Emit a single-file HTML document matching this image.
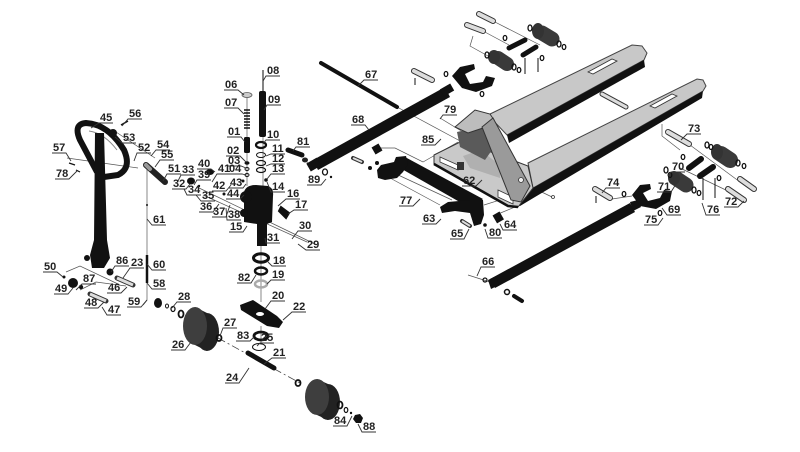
<!DOCTYPE html>
<html><head><meta charset="utf-8"><style>
html,body{margin:0;padding:0;background:#fff;}
svg{display:block;}
text{font-family:"Liberation Sans",Arial,sans-serif;font-weight:bold;font-size:11px;fill:#222;}
.u{fill:none;stroke:#333;stroke-width:0.9;}
.g{fill:none;stroke:#555;stroke-width:0.7;}
</style></head><body>
<svg width="800" height="452" viewBox="0 0 800 452" xmlns="http://www.w3.org/2000/svg">
<rect width="800" height="452" fill="#fff"/>

<!-- guide lines -->
<g class="g">
<line x1="263" y1="72" x2="263" y2="186"/>
<line x1="247" y1="95" x2="247" y2="186"/>
<line x1="261" y1="245" x2="261" y2="302"/>
<line x1="261" y1="326" x2="261" y2="345"/>
<line x1="197" y1="187" x2="317" y2="245"/>
<line x1="203" y1="195" x2="307" y2="242"/>
<line x1="67" y1="158" x2="138" y2="168"/>
<line x1="113" y1="130" x2="155" y2="158"/>
<polyline points="66,272 80,266 118,284"/>
<polyline points="80,290 96,282 126,286"/>
<line x1="397" y1="107" x2="462" y2="142"/>
<polyline points="378,148 395,148 423,162 458,142"/>
<line x1="390" y1="178" x2="440" y2="205"/>
<line x1="396" y1="174" x2="452" y2="200"/>
<polyline points="484,205 500,200 512,188"/>
<polyline points="498,214 515,207 505,197"/>
<line x1="440" y1="118" x2="463" y2="132"/>
<line x1="303" y1="160" x2="318" y2="168"/>
<line x1="483" y1="31" x2="509" y2="45"/>
<line x1="493" y1="21" x2="540" y2="45"/>
<polyline points="473,36 470,46 488,56"/>
<polyline points="662,124 662,136 680,150"/>
<line x1="690" y1="145" x2="740" y2="182"/>
<line x1="680" y1="168" x2="730" y2="192"/>
<line x1="523" y1="183" x2="552" y2="197"/>
<line x1="147" y1="168" x2="147" y2="300"/>
<line x1="612" y1="199" x2="632" y2="196"/>
<line x1="468" y1="275" x2="493" y2="283"/>
<line x1="630" y1="208" x2="645" y2="200"/>
</g>
<line x1="218" y1="338" x2="300" y2="383" stroke="#444" stroke-width="0.8" stroke-dasharray="8,3,2,3"/>

<!-- FORKS -->
<polygon points="488,115 632,45 642,46 647,53 644,60 507,135" fill="#c8c8c8" stroke="#444" stroke-width="1"/>
<polygon points="507,135 644,60 645,67 509,143" fill="#111"/>
<polygon points="588,72 612,59 617,61 593,74" fill="#fff" stroke="#333" stroke-width="0.8"/>
<polygon points="528,163 697,79 703,80 706,86 703,91 533,188" fill="#c8c8c8" stroke="#444" stroke-width="1"/>
<polygon points="533,188 703,91 702,98 535,197 520,206 516,204" fill="#111"/>
<polygon points="650,106 672,94 677,96 655,108" fill="#fff" stroke="#333" stroke-width="0.8"/>
<line x1="602" y1="94" x2="626" y2="107" stroke="#333" stroke-width="5" stroke-linecap="round"/>
<line x1="602" y1="94" x2="626" y2="107" stroke="#ddd" stroke-width="3" stroke-linecap="round"/>

<!-- FRAME -->
<polygon points="434,155 462,141 528,166 533,188 518,207 508,206 434,164" fill="#c9c9c9" stroke="#333" stroke-width="1"/>
<polygon points="463,156 480,150 500,165 500,178 470,168" fill="#b0b0b0"/>
<polyline points="434,164 508,206 518,207" fill="none" stroke="#111" stroke-width="2.5"/>
<polygon points="440,157 458,165 458,170 440,162" fill="#fff" stroke="#333" stroke-width="0.8"/>
<rect x="457" y="162" width="7" height="8" fill="#333"/>
<polygon points="498,190 513,197 513,204 498,197" fill="#fff" stroke="#333" stroke-width="0.8"/>
<polygon points="457,132 483,126 492,150 485,160 460,147" fill="#5a5a5a"/>
<polygon points="455,127 475,110 490,114 494,120 483,128 468,133" fill="#bdbdbd" stroke="#333" stroke-width="1"/>
<polygon points="482,127 493,118 530,186 521,202 511,200" fill="#9a9a9a" stroke="#333" stroke-width="1"/>
<circle cx="521" cy="180" r="2.5" fill="#eee" stroke="#333" stroke-width="0.8"/>
<circle cx="553" cy="197" r="1.5" fill="none" stroke="#333" stroke-width="0.8"/>

<!-- BARS -->
<line x1="321" y1="63" x2="397" y2="107" stroke="#111" stroke-width="4" stroke-linecap="round"/>
<polygon points="318,170 313,160 445,87 450,97" fill="#111"/>
<rect x="441" y="86" width="12" height="8" fill="#111" transform="rotate(-30 447 90)"/>
<rect x="308" y="160" width="12" height="9" fill="#111" transform="rotate(-30 314 165)"/>
<polygon points="495,288 490,279 630,203 635,212" fill="#111"/>
<polygon points="630,202 638,200 641,207 633,211" fill="#111"/>
<polygon points="488,280 496,276 499,285 491,289" fill="#111"/>

<!-- LEVER 63 -->
<polygon points="405,157 483,199 472,209 400,168" fill="#111"/>
<polygon points="377,170 381,165 394,162 396,157 406,156 408,164 403,172 397,178 385,180 378,178" fill="#111"/>
<polygon points="440,207 448,202 470,200 483,200 484,215 481,224 474,226 470,213 455,211 442,213" fill="#111"/>
<rect x="373" y="145" width="8" height="8" fill="#111" transform="rotate(-30 377 149)"/>
<line x1="353" y1="158" x2="362" y2="162" stroke="#333" stroke-width="4" stroke-linecap="round"/>
<line x1="353" y1="158" x2="362" y2="162" stroke="#ddd" stroke-width="2"/>
<circle cx="370" cy="168" r="2" fill="#111"/><circle cx="377" cy="163" r="2" fill="#111"/>
<line x1="462" y1="221" x2="470" y2="226" stroke="#333" stroke-width="4" stroke-linecap="round"/>
<line x1="462" y1="221" x2="470" y2="226" stroke="#ddd" stroke-width="2"/>
<rect x="494" y="213" width="8" height="9" fill="#111" transform="rotate(-30 498 217)"/>
<circle cx="485" cy="225" r="1.8" fill="#111"/>
<circle cx="507" cy="292" r="2.5" fill="none" stroke="#111" stroke-width="1.5"/>
<circle cx="485" cy="280" r="2" fill="none" stroke="#111" stroke-width="1.2"/>
<line x1="514" y1="296" x2="522" y2="301" stroke="#111" stroke-width="4" stroke-linecap="round"/>

<!-- 81 / 89 -->
<line x1="288" y1="150" x2="302" y2="155" stroke="#111" stroke-width="5" stroke-linecap="round"/>
<ellipse cx="305" cy="160" rx="3" ry="2.5" fill="#222"/>
<ellipse cx="325" cy="172" rx="2.5" ry="3" fill="none" stroke="#111" stroke-width="1.3"/>
<circle cx="331" cy="177" r="1.2" fill="#111"/>

<!-- TOP ROLLER CLUSTER -->
<g stroke-linecap="round">
<line x1="467" y1="25" x2="483" y2="31" stroke="#333" stroke-width="6"/>
<line x1="467" y1="25" x2="483" y2="31" stroke="#ddd" stroke-width="4"/>
<line x1="479" y1="14" x2="493" y2="21" stroke="#333" stroke-width="6"/>
<line x1="479" y1="14" x2="493" y2="21" stroke="#ddd" stroke-width="4"/>
<line x1="509" y1="48" x2="525" y2="40" stroke="#111" stroke-width="5"/>
<line x1="523" y1="55" x2="536" y2="47" stroke="#111" stroke-width="5"/>
<line x1="498" y1="58" x2="507" y2="64" stroke="#3a3a3a" stroke-width="14"/>
<line x1="542" y1="33" x2="552" y2="39" stroke="#3a3a3a" stroke-width="15"/>
<line x1="414" y1="71" x2="432" y2="80" stroke="#333" stroke-width="6"/>
<line x1="414" y1="71" x2="432" y2="80" stroke="#ddd" stroke-width="4"/>
</g>
<ellipse cx="494" cy="57" rx="6" ry="7" fill="#333"/>
<ellipse cx="538" cy="31" rx="6" ry="8" fill="#333"/>
<g fill="none" stroke="#111" stroke-width="1.3">
<ellipse cx="487" cy="55" rx="2" ry="3"/><ellipse cx="514" cy="67" rx="2" ry="3"/><ellipse cx="519" cy="70" rx="1.8" ry="2.5"/>
<ellipse cx="530" cy="28" rx="2" ry="3"/><ellipse cx="559" cy="44" rx="2" ry="3"/><ellipse cx="564" cy="47" rx="1.8" ry="2.5"/>
<ellipse cx="505" cy="38" rx="1.8" ry="2.5"/><ellipse cx="542" cy="58" rx="1.8" ry="2.5"/>
<ellipse cx="446" cy="74" rx="1.8" ry="2.5"/><ellipse cx="482" cy="94" rx="1.8" ry="2.5"/>
</g>
<line x1="525" y1="58" x2="525" y2="74" stroke="#111" stroke-width="1"/>
<line x1="538" y1="58" x2="538" y2="72" stroke="#111" stroke-width="1"/>
<line x1="415" y1="78" x2="415" y2="85" stroke="#111" stroke-width="1"/>
<path d="M452,76 L460,67 L474,64 L475,69 L465,74 L470,84 L483,82 L486,76 L495,78 L492,86 L476,92 L462,88 Z" fill="#111"/>

<!-- RIGHT ROLLER CLUSTER -->
<g stroke-linecap="round">
<line x1="668" y1="132" x2="689" y2="144" stroke="#333" stroke-width="6"/>
<line x1="668" y1="132" x2="689" y2="144" stroke="#ddd" stroke-width="4"/>
<line x1="728" y1="189" x2="744" y2="200" stroke="#333" stroke-width="6"/>
<line x1="728" y1="189" x2="744" y2="200" stroke="#ddd" stroke-width="4"/>
<line x1="740" y1="179" x2="754" y2="189" stroke="#333" stroke-width="6"/>
<line x1="740" y1="179" x2="754" y2="189" stroke="#ddd" stroke-width="4"/>
<line x1="595" y1="189" x2="610" y2="198" stroke="#333" stroke-width="6"/>
<line x1="595" y1="189" x2="610" y2="198" stroke="#ddd" stroke-width="4"/>
<line x1="689" y1="168" x2="701" y2="159" stroke="#111" stroke-width="6"/>
<line x1="700" y1="176" x2="713" y2="167" stroke="#111" stroke-width="6"/>
<line x1="721" y1="154" x2="730" y2="160" stroke="#3a3a3a" stroke-width="16"/>
<line x1="677" y1="179" x2="686" y2="185" stroke="#3a3a3a" stroke-width="15"/>
</g>
<ellipse cx="717" cy="152" rx="6" ry="8" fill="#333"/>
<ellipse cx="674" cy="178" rx="6" ry="7" fill="#333"/>
<g fill="none" stroke="#111" stroke-width="1.3">
<ellipse cx="707" cy="145" rx="2" ry="3"/><ellipse cx="711" cy="147" rx="1.8" ry="2.5"/>
<ellipse cx="738" cy="163" rx="2" ry="3"/><ellipse cx="744" cy="166" rx="1.8" ry="2.5"/>
<ellipse cx="666" cy="170" rx="2" ry="3"/><ellipse cx="670" cy="175" rx="1.8" ry="2.5"/>
<ellipse cx="694" cy="190" rx="2" ry="3"/><ellipse cx="699" cy="193" rx="1.8" ry="2.5"/>
<ellipse cx="683" cy="157" rx="1.8" ry="2.5"/><ellipse cx="719" cy="178" rx="1.8" ry="2.5"/>
<ellipse cx="624" cy="194" rx="1.8" ry="2.5"/><ellipse cx="660" cy="213" rx="1.8" ry="2.5"/>
</g>
<line x1="703" y1="178" x2="703" y2="200" stroke="#111" stroke-width="1"/>
<line x1="715" y1="178" x2="715" y2="198" stroke="#111" stroke-width="1"/>
<line x1="596" y1="196" x2="596" y2="203" stroke="#111" stroke-width="1"/>
<path d="M632,195 L640,185 L650,184 L651,189 L643,193 L648,201 L660,198 L664,190 L672,191 L670,201 L656,209 L640,206 Z" fill="#111"/>

<!-- HANDLE -->
<path d="M97,172 L80,140 Q73,124 86,123 Q108,124 124,150 Q132,168 118,175 L104,177" fill="none" stroke="#111" stroke-width="6"/>
<path d="M89,131 Q104,133 117,150" fill="none" stroke="#888" stroke-width="1"/>
<polygon points="95,133 104,133 107,240 110,258 104,268 92,268 90,255 94,240" fill="#111"/>
<line x1="146" y1="165" x2="165" y2="182" stroke="#222" stroke-width="6" stroke-linecap="round"/>
<line x1="146" y1="165" x2="150" y2="169" stroke="#999" stroke-width="4" stroke-linecap="round"/>
<circle cx="113" cy="133" r="4" fill="#111"/>
<line x1="121" y1="125" x2="128" y2="121" stroke="#111" stroke-width="1.5"/>
<line x1="69" y1="163" x2="75" y2="165" stroke="#111" stroke-width="1.2"/>
<line x1="76" y1="170" x2="80" y2="172" stroke="#111" stroke-width="1.2"/>
<circle cx="73" cy="283" r="5" fill="#111"/>
<circle cx="87" cy="258" r="3" fill="#111"/>
<circle cx="110" cy="272" r="3.5" fill="#111"/>
<circle cx="81" cy="287" r="2.2" fill="#111"/>
<circle cx="64" cy="277" r="1.5" fill="#111"/>
<line x1="117" y1="278" x2="133" y2="285" stroke="#333" stroke-width="5" stroke-linecap="round"/>
<line x1="117" y1="278" x2="133" y2="285" stroke="#ddd" stroke-width="3"/>
<line x1="90" y1="294" x2="106" y2="301" stroke="#333" stroke-width="5" stroke-linecap="round"/>
<line x1="90" y1="294" x2="106" y2="301" stroke="#ddd" stroke-width="3"/>
<line x1="147" y1="255" x2="147" y2="283" stroke="#111" stroke-width="2.5"/>
<circle cx="147" cy="205" r="1" fill="#111"/>
<line x1="147" y1="300" x2="143" y2="305" stroke="#333" stroke-width="1"/>

<!-- small parts left of pump -->
<ellipse cx="210" cy="172" rx="4" ry="3" fill="#111"/>
<ellipse cx="191" cy="181" rx="4" ry="3.5" fill="#111"/>
<circle cx="199" cy="186" r="1.2" fill="#111"/>
<circle cx="243" cy="181" r="1.5" fill="#111"/>
<circle cx="224" cy="194" r="1.5" fill="#111"/>

<!-- PUMP STACK -->
<line x1="263" y1="70" x2="263" y2="92" stroke="#333" stroke-width="1.2"/>
<rect x="259" y="91" width="7" height="46" rx="2" fill="#111"/>
<ellipse cx="247" cy="95" rx="5" ry="2.5" fill="#ccc" stroke="#555" stroke-width="0.8"/>
<path d="M244,110 h6 M244,113 h6 M244,116 h6 M244,119 h6 M244,122 h6 M244,125 h6 M244,128 h6" stroke="#111" stroke-width="1.6"/>
<rect x="244" y="137" width="6" height="16" rx="1.5" fill="#111"/>
<ellipse cx="247" cy="163" rx="2.5" ry="1.8" fill="#111"/>
<ellipse cx="247" cy="169" rx="2" ry="1.5" fill="none" stroke="#111" stroke-width="1"/>
<ellipse cx="247" cy="175" rx="2" ry="1.5" fill="none" stroke="#111" stroke-width="1"/>
<ellipse cx="261" cy="145" rx="5" ry="3" fill="none" stroke="#111" stroke-width="2.2"/>
<ellipse cx="261" cy="155" rx="4.5" ry="2.5" fill="none" stroke="#111" stroke-width="1"/>
<ellipse cx="261" cy="163" rx="4.5" ry="2.5" fill="none" stroke="#111" stroke-width="1.2"/>
<ellipse cx="261" cy="170" rx="4.5" ry="2.5" fill="none" stroke="#111" stroke-width="1.2"/>
<circle cx="266" cy="180" r="1.8" fill="#111"/>
<path d="M244,192 Q246,185 256,185 L268,186 Q274,188 273,196 L272,222 L267,224 L267,246 L257,246 L257,224 L244,222 Z" fill="#111"/>
<circle cx="246" cy="197" r="6" fill="#111"/>
<circle cx="244" cy="213" r="4" fill="#111"/>
<path d="M281,207 L289,213 L286,218 L279,211 Z" fill="#111" stroke="#111" stroke-width="2"/>
<ellipse cx="261" cy="258" rx="7.5" ry="4.2" fill="none" stroke="#111" stroke-width="3"/>
<ellipse cx="261" cy="271" rx="6" ry="3.5" fill="none" stroke="#111" stroke-width="2.5"/>
<ellipse cx="261" cy="284" rx="6" ry="3.5" fill="none" stroke="#aaa" stroke-width="2.5"/>
<polygon points="240,305 253,300 277,316 283,322 279,328 267,326 241,310" fill="#111"/>
<ellipse cx="260" cy="314" rx="4" ry="2" fill="#fff"/>
<ellipse cx="261" cy="336" rx="7" ry="4" fill="none" stroke="#111" stroke-width="2.8"/>
<ellipse cx="259" cy="347" rx="6.5" ry="3.5" fill="none" stroke="#111" stroke-width="1"/>

<!-- WHEELS -->
<ellipse cx="207" cy="332" rx="12" ry="19" fill="#222"/>
<polygon points="195,307 207,313 207,351 195,345" fill="#222"/>
<ellipse cx="195" cy="326" rx="12" ry="19" fill="#3e3e3e"/>
<ellipse cx="328" cy="402" rx="12" ry="18" fill="#222"/>
<polygon points="317,379 328,384 328,420 317,415" fill="#222"/>
<ellipse cx="317" cy="397" rx="12" ry="18" fill="#3e3e3e"/>
<line x1="248" y1="353" x2="274" y2="368" stroke="#111" stroke-width="5" stroke-linecap="round"/>
<ellipse cx="158" cy="303" rx="4" ry="5" fill="#111"/>
<ellipse cx="167" cy="306" rx="1.5" ry="2" fill="none" stroke="#111" stroke-width="1"/>
<ellipse cx="173" cy="309" rx="2" ry="2.5" fill="none" stroke="#111" stroke-width="1.3"/>
<ellipse cx="181" cy="314" rx="2.5" ry="3.5" fill="none" stroke="#111" stroke-width="1.8"/>
<ellipse cx="219" cy="338" rx="2.5" ry="3" fill="none" stroke="#111" stroke-width="1.8"/>
<ellipse cx="298" cy="383" rx="2.5" ry="3" fill="none" stroke="#111" stroke-width="1.8"/>
<ellipse cx="340" cy="405" rx="2.5" ry="3.5" fill="none" stroke="#111" stroke-width="1.8"/>
<ellipse cx="346" cy="410" rx="1.8" ry="2.5" fill="none" stroke="#111" stroke-width="1.2"/>
<circle cx="351" cy="413" r="1.2" fill="#111"/>
<polygon points="355,415 360,414 363,418 361,423 356,423 353,419" fill="#111"/>

<!-- LABELS -->
<g>
<text x="100" y="121">45</text><path class="u" d="M113,123 H99 l-8,5"/>
<text x="129" y="117">56</text><path class="u" d="M142,119 H128 l-6,7"/>
<text x="123" y="141">53</text><path class="u" d="M136,143 H122 l-7,-6"/>
<text x="53" y="151">57</text><path class="u" d="M52,153 H66 l5,8"/>
<text x="138" y="151">52</text><path class="u" d="M151,153 H137 l-3,8"/>
<text x="157" y="148">54</text><path class="u" d="M170,150 H156 l-5,6"/>
<text x="161" y="158">55</text><path class="u" d="M174,160 H160 l-5,7"/>
<text x="56" y="177">78</text><path class="u" d="M55,179 H69 l8,-8"/>
<text x="168" y="172">51</text><path class="u" d="M181,174 H167 l-4,7"/>
<text x="182" y="173">33</text><path class="u" d="M195,175 H181 l-3,6"/>
<text x="173" y="187">32</text><path class="u" d="M172,189 H186 l4,-5"/>
<text x="188" y="193">34</text><path class="u" d="M201,195 H187 l-3,-6"/>
<text x="153" y="223">61</text><path class="u" d="M166,225 H152 l-5,-6"/>
<text x="44" y="270">50</text><path class="u" d="M43,272 H57 l6,5"/>
<text x="116" y="264">86</text><path class="u" d="M129,266 H115 l-4,6"/>
<text x="131" y="266">23</text><path class="u" d="M144,268 H130 l-7,10"/>
<text x="153" y="268">60</text><path class="u" d="M166,270 H152 l-5,-6"/>
<text x="83" y="282">87</text><path class="u" d="M96,284 H82 l-6,6"/>
<text x="55" y="292">49</text><path class="u" d="M54,294 H68 l5,-6"/>
<text x="108" y="291">46</text><path class="u" d="M107,293 H121 l6,-6"/>
<text x="153" y="287">58</text><path class="u" d="M166,289 H152 l-5,-6"/>
<text x="85" y="306">48</text><path class="u" d="M84,308 H98 l6,-6"/>
<text x="108" y="313">47</text><path class="u" d="M121,315 H107 l-5,-8"/>
<text x="128" y="305">59</text><path class="u" d="M127,307 H141 l6,-7"/>
<text x="178" y="300">28</text><path class="u" d="M191,302 H177 l-5,6"/>
<text x="267" y="74">08</text><path class="u" d="M280,76 H266 l-3,5"/>
<text x="225" y="88">06</text><path class="u" d="M224,90 H238 l6,5"/>
<text x="225" y="106">07</text><path class="u" d="M224,108 H238 l6,6"/>
<text x="268" y="103">09</text><path class="u" d="M281,105 H267 l-3,5"/>
<text x="228" y="135">01</text><path class="u" d="M227,137 H241 l4,5"/>
<text x="267" y="138">10</text><path class="u" d="M280,140 H266 l-3,4"/>
<text x="227" y="154">02</text><path class="u" d="M226,156 H240 l6,6"/>
<text x="272" y="152">11</text><path class="u" d="M285,154 H271 l-5,2"/>
<text x="228" y="164">03</text><path class="u" d="M227,166 H241 l5,2"/>
<text x="272" y="162">12</text><path class="u" d="M285,164 H271 l-5,2"/>
<text x="218" y="172">41</text><path class="u" d="M229,174 H217 l-5,8"/>
<text x="229" y="172">04</text><path class="u" d="M229,174 H242 l4,1"/>
<text x="272" y="172">13</text><path class="u" d="M285,174 H271 l-4,5"/>
<text x="198" y="167">40</text><path class="u" d="M197,169 H211 l4,3"/>
<text x="198" y="178">39</text><path class="u" d="M211,180 H197 l-3,5"/>
<text x="213" y="189">42</text><path class="u" d="M212,191 H226 l5,-6"/>
<text x="230" y="186">43</text><path class="u" d="M229,188 H243 l3,-4"/>
<text x="272" y="190">14</text><path class="u" d="M285,192 H271 l-4,-10"/>
<text x="202" y="199">35</text><path class="u" d="M215,201 H201 l-5,-6"/>
<text x="227" y="197">44</text><path class="u" d="M226,199 H240 l4,-4"/>
<text x="287" y="197">16</text><path class="u" d="M300,199 H286 l-8,7"/>
<text x="200" y="210">36</text><path class="u" d="M199,212 H213 l6,-8"/>
<text x="295" y="208">17</text><path class="u" d="M308,210 H294 l-6,4"/>
<text x="213" y="215">37</text><path class="u" d="M212,217 H226 l4,-12"/>
<text x="228" y="218">38</text><path class="u" d="M241,220 H227 l-1,-12"/>
<text x="230" y="230">15</text><path class="u" d="M229,232 H243 l4,-6"/>
<text x="299" y="229">30</text><path class="u" d="M312,231 H298 l-6,8"/>
<text x="267" y="241">31</text><path class="u" d="M280,243 H266 l-1,-5"/>
<text x="307" y="248">29</text><path class="u" d="M320,250 H306 l-8,-6"/>
<text x="273" y="264">18</text><path class="u" d="M286,266 H272 l-4,-4"/>
<text x="238" y="281">82</text><path class="u" d="M237,283 H251 l5,-8"/>
<text x="272" y="278">19</text><path class="u" d="M285,280 H271 l-4,4"/>
<text x="272" y="299">20</text><path class="u" d="M285,301 H271 l-6,8"/>
<text x="293" y="310">22</text><path class="u" d="M306,312 H292 l-9,8"/>
<text x="224" y="326">27</text><path class="u" d="M237,328 H223 l-3,8"/>
<text x="172" y="348">26</text><path class="u" d="M171,350 H185 l6,-8"/>
<text x="237" y="339">83</text><path class="u" d="M236,341 H250 l4,-4"/>
<text x="261" y="341">25</text><path class="u" d="M274,343 H260 l-3,3"/>
<text x="273" y="356">21</text><path class="u" d="M286,358 H272 l-8,6"/>
<text x="226" y="381">24</text><path class="u" d="M225,383 H239 l10,-15"/>
<text x="334" y="424">84</text><path class="u" d="M333,426 H347 l5,-10"/>
<text x="363" y="430">88</text><path class="u" d="M376,432 H362 l-4,-8"/>
<text x="365" y="78">67</text><path class="u" d="M378,80 H364 l-6,6"/>
<text x="352" y="123">68</text><path class="u" d="M351,125 H365 l4,5"/>
<text x="444" y="113">79</text><path class="u" d="M457,115 H443 l-3,4"/>
<text x="422" y="143">85</text><path class="u" d="M421,145 H435 l6,-6"/>
<text x="297" y="145">81</text><path class="u" d="M310,147 H296 l-3,4"/>
<text x="308" y="183">89</text><path class="u" d="M307,185 H321 l5,-6"/>
<text x="463" y="184">62</text><path class="u" d="M462,186 H476 l6,-6"/>
<text x="400" y="204">77</text><path class="u" d="M399,206 H413 l7,-7"/>
<text x="423" y="222">63</text><path class="u" d="M422,224 H436 l5,-5"/>
<text x="504" y="228">64</text><path class="u" d="M517,230 H503 l-3,-6"/>
<text x="451" y="237">65</text><path class="u" d="M450,239 H464 l5,-10"/>
<text x="489" y="236">80</text><path class="u" d="M502,238 H488 l-3,-9"/>
<text x="688" y="132">73</text><path class="u" d="M701,134 H687 l-6,6"/>
<text x="672" y="170">70</text><path class="u" d="M685,172 H671 l-3,4"/>
<text x="658" y="190">71</text><path class="u" d="M657,192 H671 l5,-8"/>
<text x="607" y="186">74</text><path class="u" d="M620,188 H606 l-4,5"/>
<text x="725" y="205">72</text><path class="u" d="M724,207 H738 l6,-6"/>
<text x="668" y="213">69</text><path class="u" d="M681,215 H667 l-5,-7"/>
<text x="645" y="223">75</text><path class="u" d="M644,225 H658 l5,-7"/>
<text x="707" y="213">76</text><path class="u" d="M720,215 H706 l-4,-12"/>
<text x="482" y="265">66</text><path class="u" d="M495,267 H481 l-4,9"/>
</g>
</svg>
</body></html>
